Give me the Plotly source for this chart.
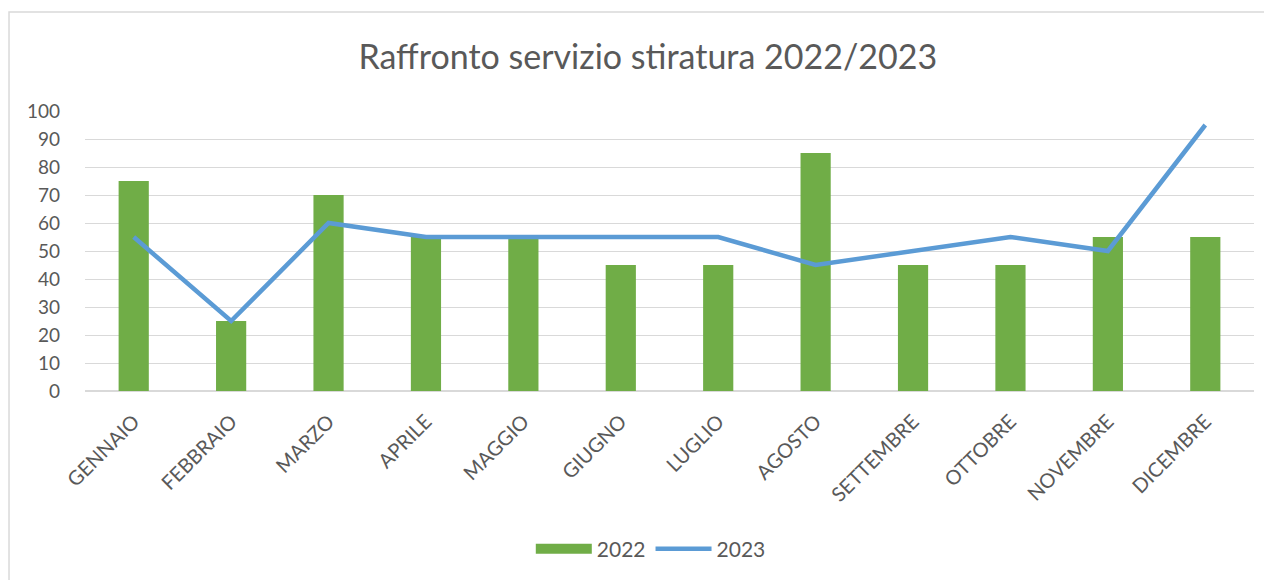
import plotly.graph_objects as go

mesi = ["GENNAIO", "FEBBRAIO", "MARZO", "APRILE", "MAGGIO", "GIUGNO",
        "LUGLIO", "AGOSTO", "SETTEMBRE", "OTTOBRE", "NOVEMBRE", "DICEMBRE"]
valori_2022 = [75, 25, 70, 55, 55, 45, 45, 85, 45, 45, 55, 55]
valori_2023 = [55, 25, 60, 55, 55, 55, 55, 45, 50, 55, 50, 95]
tick_y = list(range(0, 101, 10))

testo = "#595959"
verde = "#70AD47"
blu = "#5B9BD5"
font = "Lato, 'Open Sans', sans-serif"

fig = go.Figure()

# barre 2022 (la voce di legenda e' disegnata a parte come rettangolo largo)
fig.add_trace(go.Bar(x=mesi, y=valori_2022, name="2022", showlegend=False,
                     marker=dict(color=verde, line=dict(width=0))))
fig.add_trace(go.Scatter(x=[None], y=[None], name="2022", mode="lines",
                         line=dict(color=verde, width=14), hoverinfo="skip"))

fig.add_trace(go.Scatter(x=mesi, y=valori_2023, name="2023", mode="lines",
                         line=dict(color=blu, width=4.5)))

fig.update_layout(
    width=1272, height=580,
    margin=dict(l=77, r=26, t=103, b=197),
    paper_bgcolor="white", plot_bgcolor="white",
    font=dict(family=font, color=testo, size=16),
    title=dict(text="Raffronto servizio stiratura 2022/2023",
               x=0.503, xanchor="center", y=0.915, yanchor="middle",
               font=dict(size=34, color=testo, family=font)),
    bargap=0.69,
    showlegend=True,
    legend=dict(orientation="h", x=0.484, xanchor="center", y=-0.565, yanchor="middle",
                font=dict(size=21, color=testo), traceorder="normal", itemwidth=56),
    shapes=[dict(type="rect", xref="paper", yref="paper",
                 x0=-0.065, x1=1.05, y0=-0.75, y1=1.3536,
                 line=dict(color="#D9D9D9", width=1.5), layer="below")],
)

fig.update_xaxes(tickangle=-45, showgrid=False, showline=False, ticks="",
                 ticklabelstandoff=14, tickfont=dict(size=20, color=testo))
fig.update_yaxes(range=[0, 100], tickvals=tick_y, showgrid=True,
                 gridcolor="#D9D9D9", gridwidth=1, zeroline=True,
                 zerolinecolor="#D9D9D9", zerolinewidth=1.5, showline=False,
                 ticks="", ticklabelstandoff=24, tickfont=dict(size=19, color=testo))

fig.write_html("out.html")
